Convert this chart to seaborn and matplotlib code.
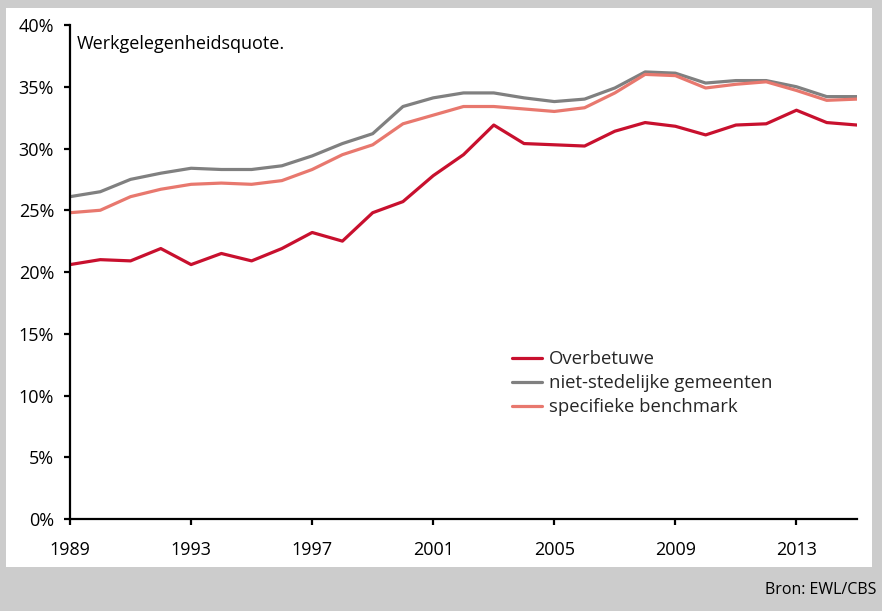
import matplotlib
matplotlib.use("Agg")
import matplotlib.pyplot as plt
import matplotlib.patches as mpatches
from matplotlib.ticker import FuncFormatter, MultipleLocator
import seaborn as sns
import pandas as pd

years = list(range(1989, 2016))
overbetuwe = [20.6, 21.0, 20.9, 21.9, 20.6, 21.5, 20.9, 21.9, 23.2, 22.5, 24.8, 25.7, 27.8,
              29.5, 31.9, 30.4, 30.3, 30.2, 31.4, 32.1, 31.8, 31.1, 31.9, 32.0, 33.1, 32.1, 31.9]
niet_stedelijk = [26.1, 26.5, 27.5, 28.0, 28.4, 28.3, 28.3, 28.6, 29.4, 30.4, 31.2, 33.4, 34.1,
                  34.5, 34.5, 34.1, 33.8, 34.0, 34.9, 36.2, 36.1, 35.3, 35.5, 35.5, 35.0, 34.2, 34.2]
benchmark = [24.8, 25.0, 26.1, 26.7, 27.1, 27.2, 27.1, 27.4, 28.3, 29.5, 30.3, 32.0, 32.7,
             33.4, 33.4, 33.2, 33.0, 33.3, 34.5, 36.0, 35.9, 34.9, 35.2, 35.4, 34.7, 33.9, 34.0]
series_names = ["Overbetuwe", "niet-stedelijke gemeenten", "specifieke benchmark"]
colors = ["#c8102e", "#808080", "#e8786e"]
xticks = [1989, 1993, 1997, 2001, 2005, 2009, 2013]

df = pd.DataFrame({
    "jaar": years * 3,
    "waarde": overbetuwe + niet_stedelijk + benchmark,
    "reeks": [series_names[0]] * len(years) + [series_names[1]] * len(years) + [series_names[2]] * len(years),
})

sns.set_theme(style="ticks")
plt.rcParams["font.family"] = ["Open Sans", "DejaVu Sans"]

W, H = 882, 611
fig = plt.figure(figsize=(W / 100, H / 100), dpi=100, facecolor="#cccccc")
fig.patches.append(mpatches.Rectangle((6 / W, 1 - 567 / H), (872 - 6) / W, (567 - 8) / H,
                                      transform=fig.transFigure, facecolor="white",
                                      edgecolor="none", zorder=-5))
ax = fig.add_axes([70 / W, 1 - 519 / H, (857 - 70) / W, (519 - 25) / H])
ax.set_zorder(2)
ax.set_facecolor("none")

sns.lineplot(data=df, x="jaar", y="waarde", hue="reeks", palette=colors,
             hue_order=series_names, linewidth=2.3, ax=ax)

ax.set_xlim(1989, 2015)
ax.set_ylim(0, 40)
ax.yaxis.set_major_locator(MultipleLocator(5))
ax.yaxis.set_major_formatter(FuncFormatter(lambda v, p: f"{int(v)}%"))
ax.set_xticks(xticks)
ax.set_xticklabels([str(x) for x in xticks])
ax.set_xlabel("")
ax.set_ylabel("")
for s in ["top", "right"]:
    ax.spines[s].set_visible(False)
for s in ["left", "bottom"]:
    ax.spines[s].set_color("black")
    ax.spines[s].set_linewidth(1.6)
ax.tick_params(axis="both", colors="black", labelsize=13, width=1.6, length=4.5,
               direction="out")
ax.tick_params(axis="y", pad=7)
ax.tick_params(axis="x", pad=11)

ax.text(0.009, 0.9615, "Werkgelegenheidsquote.", transform=ax.transAxes,
        fontsize=13, color="black", va="center", ha="left")

leg = ax.legend(loc="center left", bbox_to_anchor=(0.5616, 0.275), frameon=False,
                fontsize=13.3, handlelength=1.6, handletextpad=0.4, labelspacing=0.32,
                borderpad=0, borderaxespad=0)

fig.text(876 / W, 1 - 590 / H, "Bron: EWL/CBS", ha="right", va="center",
         fontsize=11.5, color="black")

fig.savefig("out.png", dpi=100, facecolor=fig.get_facecolor())
